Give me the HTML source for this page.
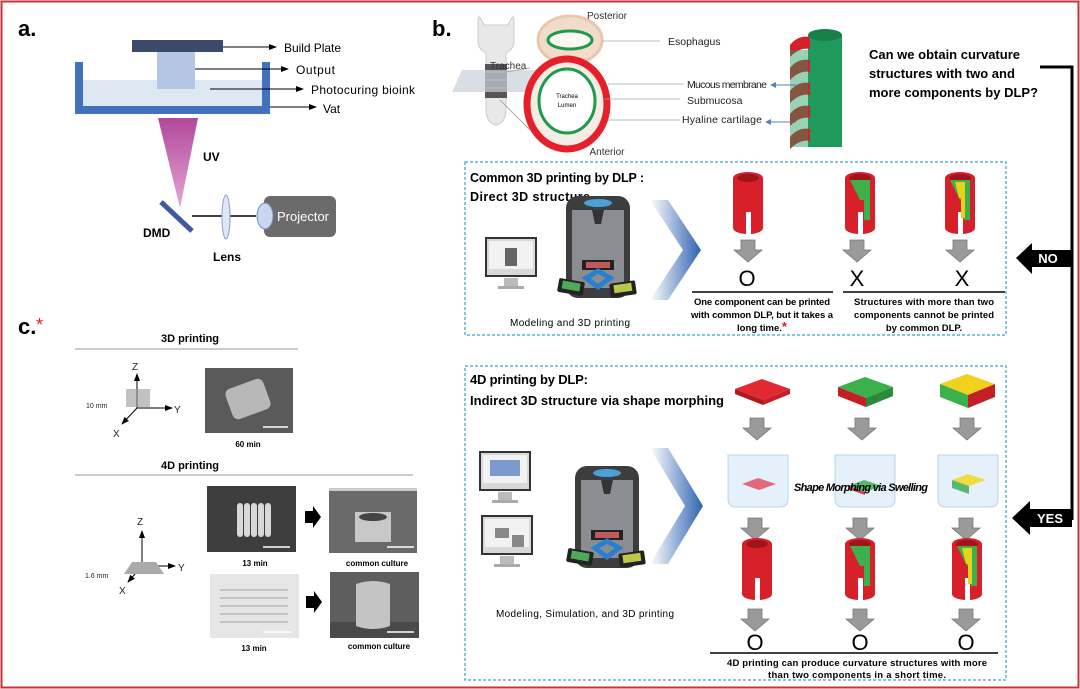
<!DOCTYPE html>
<html><head><meta charset="utf-8"><style>
html,body{margin:0;padding:0;background:#fff}
svg{display:block}
text{font-family:"Liberation Sans",sans-serif}
</style></head><body>
<svg width="1080" height="689" viewBox="0 0 1080 689" xmlns="http://www.w3.org/2000/svg">
<defs>
<marker id="ah" markerWidth="8" markerHeight="8" refX="7" refY="4" orient="auto"><path d="M0,1 L8,4 L0,7z" fill="#000"/></marker>
<marker id="ab" markerWidth="6" markerHeight="6" refX="5" refY="3" orient="auto"><path d="M0,0 L6,3 L0,6z" fill="#5a7fc0"/></marker>
<linearGradient id="uv" x1="0" y1="0" x2="0" y2="1"><stop offset="0" stop-color="#b0489a"/><stop offset="1" stop-color="#e6a6d8"/></linearGradient>
<linearGradient id="chev" x1="0" y1="0" x2="1" y2="0"><stop offset="0" stop-color="#fff"/><stop offset="1" stop-color="#2f63b0"/></linearGradient>
<g id="darr"><path d="M-7,0 h14 v10 h7 l-14,12 l-14,-12 h7z" fill="#9a9a9a" stroke="#777" stroke-width="0.8"/></g>
<g id="cylR"><path d="M-15,0 a15,6 0 0 1 30,0 v50 a15,6 0 0 1 -12,6 v-22 h-5 v22 a15,6 0 0 1 -13,-6z" fill="#d7202a"/><ellipse cx="0" cy="0" rx="11" ry="4" fill="#a0141c"/></g>
<g id="printer"><rect x="0" y="0" width="64" height="102" rx="12" fill="#3d3d3d"/><rect x="6" y="14" width="52" height="78" fill="#8a8e93"/><ellipse cx="32" cy="7" rx="14" ry="4" fill="#4aa0d8"/><path d="M26,14 h12 l-3,14 h-6z" fill="#333"/><rect x="16" y="64" width="32" height="10" fill="#222"/><rect x="20" y="66" width="24" height="6" fill="#c05a5a"/><path d="M20,82 l12,-7 l12,7 l-12,9z" fill="none" stroke="#2a7fd0" stroke-width="5"/><rect x="-8" y="84" width="26" height="14" rx="2" fill="#222" transform="rotate(10 5 91)"/><rect x="-4" y="86" width="18" height="8" fill="#4daa5a" transform="rotate(10 5 91)"/><rect x="44" y="86" width="26" height="14" rx="2" fill="#222" transform="rotate(-8 57 93)"/><rect x="48" y="88" width="18" height="8" fill="#bcc64a" transform="rotate(-8 57 93)"/></g>
<g id="mon"><rect x="0" y="0" width="50" height="38" fill="#d8d8d8" stroke="#333" stroke-width="2"/><rect x="3" y="3" width="44" height="28" fill="#f2f2f2"/><rect x="18" y="40" width="14" height="8" fill="#bbb"/><rect x="12" y="48" width="26" height="3" fill="#aaa"/></g>
</defs>

<rect x="1.5" y="1.5" width="1077" height="686" fill="none" stroke="#c8323a" stroke-width="2"/>

<!-- ===== a ===== -->
<text x="18" y="36" font-size="22" font-weight="bold">a.</text>
<rect x="132" y="40" width="91" height="12" fill="#3b4a6b"/>
<rect x="83" y="80" width="179" height="26" fill="#dfe7f3"/>
<rect x="157" y="52" width="38" height="37" fill="#b3c6e4"/>
<path d="M75,62 h8 v44 h179 v-44 h8 v52 h-195z" fill="#4272bd"/>
<g stroke="#000" stroke-width="1" fill="none" marker-end="url(#ah)">
<line x1="223" y1="47" x2="276" y2="47"/>
<line x1="195" y1="69" x2="288" y2="69"/>
<line x1="210" y1="89" x2="303" y2="89"/>
<line x1="270" y1="107" x2="316" y2="107"/>
</g>
<g font-size="12"><text x="284" y="52" textLength="57">Build Plate</text><text x="296" y="74" textLength="39">Output</text><text x="311" y="94" textLength="104">Photocuring bioink</text><text x="323" y="113">Vat</text></g>
<path d="M158,118 h40 l-18,90z" fill="url(#uv)"/>
<text x="203" y="161" font-size="12" font-weight="bold">UV</text>
<line x1="161" y1="202" x2="192" y2="231" stroke="#3b5aa0" stroke-width="5"/>
<text x="143" y="237" font-size="12" font-weight="bold">DMD</text>
<line x1="192" y1="216" x2="256" y2="216" stroke="#000" stroke-width="1.5"/>
<ellipse cx="226" cy="217" rx="4" ry="22" fill="#dfe6f5" stroke="#8aa0c8"/>
<text x="213" y="261" font-size="12" font-weight="bold">Lens</text>
<rect x="264" y="196" width="72" height="41" rx="6" fill="#6b6b6b"/>
<ellipse cx="265" cy="216" rx="8" ry="13" fill="#c8d6f0" stroke="#7a8fb8"/>
<text x="303" y="221" font-size="13" fill="#fff" text-anchor="middle">Projector</text>

<!-- ===== b top ===== -->
<text x="432" y="36" font-size="22" font-weight="bold">b.</text>
<path d="M484,25 q-6,-14 -6,-4 v20 q0,8 8,12 v56 q0,14 10,16 q10,-2 10,-16 v-56 q8,-4 8,-12 v-20 q0,-10 -6,4z" fill="#e8e8e8" stroke="#ccc"/>
<rect x="485" y="64" width="22" height="34" fill="#555"/>
<g stroke="#999"><line x1="485" y1="72" x2="507" y2="72"/><line x1="485" y1="80" x2="507" y2="80"/><line x1="485" y1="88" x2="507" y2="88"/></g>
<path d="M462,70 l80,0 l-10,22 l-80,0z" fill="#c9cfd8" opacity="0.7"/>
<line x1="506" y1="72" x2="530" y2="68" stroke="#aaa"/><line x1="500" y1="100" x2="530" y2="130" stroke="#aaa"/>
<text x="490" y="69" font-size="10" fill="#333">Trachea</text>
<ellipse cx="570" cy="40" rx="32" ry="24" fill="#f0dcc8" stroke="#eac7ac" stroke-width="3"/>
<ellipse cx="570" cy="40" rx="22" ry="9" fill="#fff8f0" stroke="#1e9a4a" stroke-width="3"/>
<ellipse cx="567" cy="104" rx="40" ry="45" fill="#f6ece6" stroke="#e5202a" stroke-width="7"/>
<ellipse cx="567" cy="101" rx="28" ry="32" fill="#fff" stroke="#1e9a4a" stroke-width="3"/>
<text x="567" y="98" font-size="6" text-anchor="middle">Trachea</text><text x="567" y="107" font-size="6" text-anchor="middle">Lumen</text>
<text x="607" y="19" font-size="10" text-anchor="middle" fill="#333">Posterior</text>
<text x="607" y="155" font-size="10" text-anchor="middle" fill="#333">Anterior</text>
<g stroke="#9aa" stroke-width="0.8"><line x1="602" y1="41" x2="660" y2="41"/><line x1="608" y1="84" x2="684" y2="84"/><line x1="605" y1="99" x2="680" y2="99"/><line x1="608" y1="120" x2="680" y2="120"/></g>
<g font-size="10.5" fill="#222"><text x="668" y="45">Esophagus</text><text x="687" y="88" textLength="80">Mucous membrane</text><text x="687" y="104">Submucosa</text><text x="682" y="123" textLength="80">Hyaline cartilage</text></g>
<line x1="796" y1="85" x2="771" y2="85" stroke="#5a7fc0" marker-end="url(#ab)"/><line x1="796" y1="122" x2="766" y2="122" stroke="#5a7fc0" marker-end="url(#ab)"/>
<rect x="808" y="35" width="34" height="112" fill="#1f9a5c"/>
<ellipse cx="825" cy="35" rx="17" ry="6" fill="#17804a"/>
<g fill="#d3202a"><path d="M790,45 q8,-10 20,-8 v12 q-10,-2 -20,8z"/><path d="M790,68 q8,-10 20,-8 v12 q-10,-2 -20,8z"/><path d="M790,91 q8,-10 20,-8 v12 q-10,-2 -20,8z"/><path d="M790,114 q8,-10 20,-8 v12 q-10,-2 -20,8z"/><path d="M790,137 q8,-10 20,-8 v12 q-10,-2 -20,8z"/></g>
<rect x="790" y="50" width="18" height="97" fill="#1f9a5c" opacity="0.45"/>
<g font-size="13" font-weight="bold"><text x="869" y="59">Can we obtain curvature</text><text x="869" y="78">structures with two and</text><text x="869" y="97">more components by DLP?</text></g>
<polyline points="1040,67 1072,67 1072,520" fill="none" stroke="#000" stroke-width="3"/>

<path d="M1016,258 l16,-15 v7 h40 v17 h-40 v7z" fill="#000"/>
<text x="1048" y="263" font-size="13" font-weight="bold" fill="#fff" text-anchor="middle">NO</text>
<path d="M1012,518 l18,-17 v8 h42 v18 h-42 v8z" fill="#000"/>
<text x="1050" y="523" font-size="13" font-weight="bold" fill="#fff" text-anchor="middle">YES</text>

<!-- box1 -->
<rect x="465" y="162" width="541" height="173" fill="none" stroke="#3aa0c8" stroke-width="1.2" stroke-dasharray="3,2"/>
<g font-size="12.5" font-weight="bold"><text x="470" y="182" textLength="174">Common 3D printing by DLP :</text><text x="470" y="201" textLength="120">Direct 3D structure</text></g>
<use href="#mon" x="486" y="238"/>
<rect x="505" y="248" width="12" height="18" fill="#666"/>
<use href="#printer" x="566" y="196"/>
<text x="570" y="326" font-size="10" text-anchor="middle" textLength="120">Modeling and 3D printing</text>
<path d="M650,200 h18 l33,50 l-33,50 h-18 l33,-50z" fill="url(#chev)"/>
<use href="#cylR" x="748" y="178"/>
<g transform="translate(860 178)"><use href="#cylR"/><path d="M-10,2 h20 v40 h-6 v-20 h-4 z" fill="#3cb04a"/></g>
<g transform="translate(960 178)"><use href="#cylR"/><path d="M-10,2 h20 v40 h-6 v-20 h-4 z" fill="#3cb04a"/><path d="M-5,4 h10 v36 h-4 v-20 h-2z" fill="#e6d21a"/></g>
<use href="#darr" x="748" y="240"/><use href="#darr" x="857" y="240"/><use href="#darr" x="960" y="240"/>
<g font-size="22" text-anchor="middle"><text x="747" y="286">O</text><text x="857" y="286">X</text><text x="962" y="286">X</text></g>
<line x1="692" y1="292" x2="833" y2="292" stroke="#000" stroke-width="1.5"/>
<line x1="843" y1="292" x2="1005" y2="292" stroke="#000" stroke-width="1.5"/>
<g font-size="9.5" font-weight="bold" text-anchor="middle"><text x="762" y="305" textLength="136">One component can be printed</text><text x="762" y="318" textLength="142">with common DLP, but it takes a</text><text x="762" y="331">long time.<tspan fill="#e02020" font-size="13">*</tspan></text>
<text x="924" y="305" textLength="140">Structures with more than two</text><text x="924" y="318" textLength="140">components cannot be printed</text><text x="924" y="331">by common DLP.</text></g>

<!-- box2 -->
<rect x="465" y="366" width="541" height="314" fill="none" stroke="#3aa0c8" stroke-width="1.2" stroke-dasharray="3,2"/>
<g font-size="13" font-weight="bold"><text x="470" y="384" textLength="118">4D printing by DLP:</text><text x="470" y="405" textLength="254">Indirect 3D structure via shape morphing</text></g>
<use href="#mon" x="480" y="452"/><rect x="490" y="460" width="30" height="16" fill="#7a9ad0"/>
<use href="#mon" x="482" y="516"/><rect x="495" y="528" width="14" height="10" fill="#888"/><rect x="512" y="535" width="12" height="12" fill="#888"/>
<use href="#printer" x="575" y="466"/>
<text x="585" y="617" font-size="10" text-anchor="middle" textLength="178">Modeling, Simulation, and 3D printing</text>
<path d="M650,448 h18 l35,58 l-35,58 h-18 l35,-58z" fill="url(#chev)"/>
<path d="M735,389 l27,-10 l28,10 l-27,11z" fill="#e22830"/><path d="M735,389 v5 l28,11 v-5z" fill="#b01820"/><path d="M790,389 v5 l-27,11 v-5z" fill="#c41e26"/>
<path d="M838,387 l27,-10 l28,10 l-27,11z" fill="#3cb04a"/><path d="M838,387 v9 l28,11 v-9z" fill="#c41e26"/><path d="M893,387 v9 l-27,11 v-9z" fill="#2a8a3a"/>
<path d="M940,384 l27,-10 l28,10 l-27,11z" fill="#f0d21e"/><path d="M940,384 v13 l28,11 v-13z" fill="#3cb04a"/><path d="M995,384 v13 l-27,11 v-13z" fill="#c41e26"/>
<use href="#darr" x="757" y="418"/><use href="#darr" x="862" y="418"/><use href="#darr" x="967" y="418"/>
<g fill="#e4f1fb" stroke="#b8d4ea"><path d="M728,455 h60 v44 q0,8 -8,8 h-44 q-8,0 -8,-8z"/><path d="M835,455 h60 v44 q0,8 -8,8 h-44 q-8,0 -8,-8z"/><path d="M938,455 h60 v44 q0,8 -8,8 h-44 q-8,0 -8,-8z"/></g>
<path d="M742,484 l16,-6 l18,6 l-17,6z" fill="#e06a78"/>
<path d="M848,486 l16,-6 l18,6 l-17,6z" fill="#58b870"/><path d="M848,486 v3 l17,6 v-3z" fill="#d04050"/>
<path d="M952,480 l16,-6 l18,6 l-17,6z" fill="#eedc40"/><path d="M952,480 v8 l17,6 v-8z" fill="#58b870"/>
<text x="794" y="491" font-size="11" font-weight="bold" font-style="italic" textLength="134">Shape Morphing via Swelling</text>
<use href="#darr" x="755" y="518"/><use href="#darr" x="860" y="518"/><use href="#darr" x="966" y="518"/>
<use href="#cylR" x="757" y="544"/>
<g transform="translate(860 544)"><use href="#cylR"/><path d="M-10,2 h20 v40 h-6 v-20 h-4 z" fill="#3cb04a"/></g>
<g transform="translate(967 544)"><use href="#cylR"/><path d="M-10,2 h20 v40 h-6 v-20 h-4 z" fill="#3cb04a"/><path d="M-5,4 h10 v36 h-4 v-20 h-2z" fill="#e6d21a"/></g>
<use href="#darr" x="755" y="609"/><use href="#darr" x="860" y="609"/><use href="#darr" x="966" y="609"/>
<g font-size="22" text-anchor="middle"><text x="755" y="650">O</text><text x="860" y="650">O</text><text x="966" y="650">O</text></g>
<line x1="710" y1="653" x2="998" y2="653" stroke="#000" stroke-width="1.5"/>
<g font-size="9.5" font-weight="bold" text-anchor="middle"><text x="857" y="666" textLength="260">4D printing can produce curvature structures with more</text><text x="857" y="678" textLength="178">than two components in a short time.</text></g>

<!-- ===== c ===== -->
<text x="18" y="334" font-size="22" font-weight="bold">c.</text><text x="36" y="331" font-size="18" fill="#e02020">*</text>
<text x="190" y="342" font-size="11" font-weight="bold" text-anchor="middle">3D printing</text>
<line x1="75" y1="349" x2="298" y2="349" stroke="#999"/>
<g font-size="10" fill="#222">
<line x1="137" y1="408" x2="137" y2="374" stroke="#000" marker-end="url(#ah)"/><text x="132" y="370">Z</text>
<line x1="137" y1="408" x2="172" y2="408" stroke="#000" marker-end="url(#ah)"/><text x="174" y="413">Y</text>
<line x1="137" y1="408" x2="122" y2="424" stroke="#000" marker-end="url(#ah)"/><text x="113" y="437">X</text>
<rect x="126" y="389" width="24" height="18" fill="#999" opacity="0.6"/><text x="86" y="408" font-size="7">10 mm</text>
</g>
<rect x="205" y="368" width="88" height="65" fill="#5a5a5a"/>
<rect x="228" y="383" width="40" height="32" rx="6" fill="#b8b8b8" transform="rotate(-20 248 399)"/>
<line x1="263" y1="427" x2="288" y2="427" stroke="#fff" stroke-width="1.5"/>
<text x="248" y="447" font-size="8" font-weight="bold" text-anchor="middle">60 min</text>
<text x="190" y="469" font-size="11" font-weight="bold" text-anchor="middle">4D printing</text>
<line x1="75" y1="475" x2="413" y2="475" stroke="#999"/>
<g font-size="10" fill="#222">
<line x1="142" y1="566" x2="142" y2="531" stroke="#000" marker-end="url(#ah)"/><text x="137" y="525">Z</text>
<line x1="142" y1="566" x2="175" y2="566" stroke="#000" marker-end="url(#ah)"/><text x="178" y="571">Y</text>
<line x1="142" y1="566" x2="128" y2="582" stroke="#000" marker-end="url(#ah)"/><text x="119" y="594">X</text>
<path d="M132,562 h24 l8,12 h-40z" fill="#aaa"/><text x="85" y="578" font-size="7">1.6 mm</text>
</g>
<rect x="207" y="486" width="89" height="66" fill="#3e3e3e"/>
<g fill="#d8d8d8"><rect x="237" y="503" width="6" height="34" rx="3"/><rect x="244" y="503" width="6" height="34" rx="3"/><rect x="251" y="503" width="6" height="34" rx="3"/><rect x="258" y="503" width="6" height="34" rx="3"/><rect x="265" y="503" width="6" height="34" rx="3"/></g>
<line x1="263" y1="547" x2="290" y2="547" stroke="#fff" stroke-width="1.5"/>
<text x="255" y="566" font-size="8" font-weight="bold" text-anchor="middle">13 min</text>
<path d="M305,511 h8 v-5 l8,11 l-8,11 v-5 h-8z" fill="#000"/>
<rect x="329" y="488" width="88" height="65" fill="#6a6a6a"/>
<rect x="329" y="488" width="88" height="3" fill="#ccc"/>
<rect x="355" y="512" width="36" height="30" fill="#c8c8c8"/>
<ellipse cx="373" cy="517" rx="14" ry="4" fill="#444"/>
<line x1="387" y1="547" x2="414" y2="547" stroke="#fff" stroke-width="1.5"/>
<text x="377" y="566" font-size="8" font-weight="bold" text-anchor="middle">common culture</text>
<rect x="210" y="574" width="89" height="64" fill="#e6e6e6"/>
<g stroke="#c4c4c4" stroke-width="2"><line x1="220" y1="590" x2="288" y2="590"/><line x1="220" y1="598" x2="288" y2="598"/><line x1="220" y1="606" x2="288" y2="606"/><line x1="220" y1="614" x2="288" y2="614"/><line x1="220" y1="622" x2="288" y2="622"/></g>
<line x1="263" y1="632" x2="292" y2="632" stroke="#fff" stroke-width="1.5"/>
<text x="254" y="651" font-size="8" font-weight="bold" text-anchor="middle">13 min</text>
<path d="M306,596 h8 v-5 l8,11 l-8,11 v-5 h-8z" fill="#000"/>
<rect x="330" y="572" width="89" height="66" fill="#5e5e5e"/>
<rect x="330" y="622" width="89" height="16" fill="#4a4a4a"/>
<path d="M356,584 q17,-6 34,0 v42 q-17,6 -34,0z" fill="#c4c4c4"/>
<line x1="387" y1="632" x2="414" y2="632" stroke="#fff" stroke-width="1.5"/>
<text x="379" y="649" font-size="8" font-weight="bold" text-anchor="middle">common culture</text>
</svg>
</body></html>
